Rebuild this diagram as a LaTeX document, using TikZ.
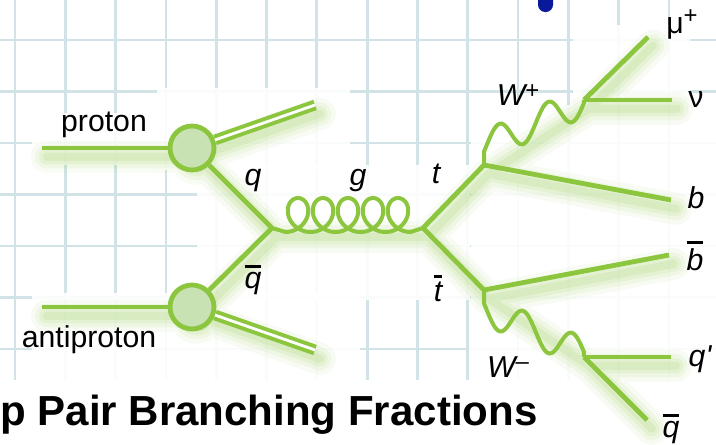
\documentclass[tikz,border=0pt]{standalone}
\usepackage{fontspec}
\setmainfont{Liberation Sans}
\usepackage{tikz}

% bar over an antiparticle symbol
\newcommand{\antibar}[1]{\vbox{\hrule height 0.1em\kern0.13em\hbox{#1}}}
% raised charge sign
\newcommand{\charge}[2][0.22em]{\raisebox{#1}{\fontsize{17}{17}\selectfont\upshape#2}}

\begin{document}
\begin{tikzpicture}[
  lbl/.style={inner sep=0pt,anchor=base,font=\fontsize{21.5}{26}\selectfont},
  ilbl/.style={lbl,font=\fontsize{21.5}{26}\selectfont\itshape},
  fermion/.style={draw=lgreen,line width=0.12cm},
  boson/.style={draw=lgreen,line width=0.1cm},
  remnant/.style={draw=lgreen,line width=0.1cm,double=white,double distance=0.07cm},
  hadron/.style={circle,draw=lgreen,fill=lfill,line width=0.12cm,minimum size=1.1cm,inner sep=0pt},
  glow/.style={draw=lgreen,line cap=round,line join=round,transform canvas={shift={(0.12,-0.22)}}},
  patch/.style={fill=white,opacity=0.9},
  gridline/.style={draw=gridc,line width=0.07cm}
]
% Define diagram colours
\definecolor{lgreen}{HTML}{8CC63F}
\definecolor{lfill}{HTML}{C8E2B4}
\definecolor{gridc}{HTML}{D2E3E7}
\definecolor{dotblue}{HTML}{0A189A}

\useasboundingbox (0,0) rectangle (17.9,11.1);

% Graph paper background
\foreach \x in {0,...,14}
  \draw[gridline] ({0.375+1.2575*\x},0) -- ({0.375+1.2575*\x},11.1);
\foreach \y in {0,...,7}
  \draw[gridline] (0,{10.1-1.2875*\y}) -- (17.9,{10.1-1.2875*\y});

% White areas behind the diagram
\fill[white] (0,0) rectangle (17.9,1.6);
\fill[patch] (0.8,8.275) rectangle (3.925,6.975);
\fill[patch] (3.925,8.9) rectangle (8.75,6.85);
\fill[patch] (4.925,6.975) rectangle (11.75,3.6);
\fill[patch] (0.8,3.775) rectangle (9.0,1.6);
\fill[patch] (11.725,3.6) rectangle (17.9,1.6);
\fill[patch] (11.775,8.475) rectangle (17.9,3.6);
\fill[patch] (14.325,10.475) rectangle (17.25,8.475);

% Blue marker at the top edge
\fill[dotblue,rounded corners=0.18cm] (13.45,11.6) rectangle (13.825,10.8);

% Vertices and line ends
\coordinate (pin) at (1.05,7.4);
\coordinate (pc) at (4.8,7.4);
\coordinate (pend) at (7.875,8.475);
\coordinate (ain) at (1.05,3.425);
\coordinate (ac) at (4.8,3.425);
\coordinate (aend) at (7.875,2.35);
\coordinate (qv) at (6.8,5.4);
\coordinate (tv) at (10.575,5.4);
\coordinate (tw) at (12.1,6.975);
\coordinate (wpv) at (14.6,8.6);
\coordinate (muend) at (16.2,10.175);
\coordinate (nuend) at (16.8,8.6);
\coordinate (bend) at (16.775,6.1);
\coordinate (tbw) at (12.1,3.85);
\coordinate (bbend) at (16.725,4.725);
\coordinate (wmv) at (14.6,2.175);
\coordinate (qpend) at (16.775,2.175);
\coordinate (qbend) at (16.175,0.6);

% Soft shadow under the lines
\foreach \w/\o in {0.8cm/0.06,0.58cm/0.08,0.38cm/0.1,0.2cm/0.12}
  \draw[glow,line width=\w,draw opacity=\o]
    (pin) -- (pc) -- (qv) -- (ac) -- (ain)
    (pc) -- (pend) (ac) -- (aend)
    (pc) circle (0.3) (ac) circle (0.3)
    (qv) -- (tv) -- (tw) -- (wpv) -- (muend) (wpv) -- (nuend) (tw) -- (bend)
    (tv) -- (tbw) -- (wmv) -- (qbend) (wmv) -- (qpend) (tbw) -- (bbend);

% Proton and antiproton
\node[hadron] (pcirc) at (pc) {};
\node[hadron] (acirc) at (ac) {};
\draw[fermion] (pin) -- (pcirc);
\draw[remnant] (pcirc) -- (pend);
\draw[fermion] (pcirc) -- (qv);
\draw[fermion] (ain) -- (acirc);
\draw[remnant] (acirc) -- (aend);
\draw[fermion] (acirc) -- (qv);

% Gluon
\draw[boson] (qv) -- plot[domain=0:31.416,samples=241,smooth,variable=\t]
  ({7.1375+0.09947*\t+0.4*sin(\t r)},{5.725-0.425*cos(\t r)}) -- (tv);

% Top and antitop decays
\draw[fermion] (tv) -- (tw);
\draw[fermion] (tw) -- (bend);
\draw[boson] (tw) -- plot[domain=0:2.5,samples=80,smooth,variable=\s]
  ({12.1+\s},{7.445+0.449*\s+0.3875*sin((5.128*\s-0.352) r)}) -- (wpv);
\draw[fermion] (wpv) -- (muend);
\draw[fermion] (wpv) -- (nuend);
\draw[fermion] (tv) -- (tbw);
\draw[fermion] (tbw) -- (bbend);
\draw[boson] (tbw) -- plot[domain=0:2.5,samples=80,smooth,variable=\s]
  ({12.1+\s},{3.38-0.449*\s-0.3875*sin((5.128*\s-0.352) r)}) -- (wmv);
\draw[fermion] (wmv) -- (qpend);
\draw[fermion] (wmv) -- (qbend);

% Labels
\node[lbl] (proton) at (2.6,7.825) {proton};
\node[lbl] (antiproton) at (2.225,2.425) {antiproton};
\node[ilbl] (qlab) at (6.325,6.475) {q};
\node[ilbl] (qbarlab) at (6.325,3.9) {\antibar{q}};
\node[ilbl] (glab) at (8.95,6.475) {g};
\node[ilbl] (tlab) at (10.9,6.525) {t};
\node[ilbl] (tbarlab) at (10.95,3.575) {\antibar{t}};
\node[ilbl] (wplab) at (12.95,8.475) {W\charge{+}};
\node[ilbl] (wmlab) at (12.7,1.675) {W\charge[0.25em]{–}};
\node[lbl] (mulab) at (17.05,10.275) {μ\charge[0.32em]{+}};
\node[lbl] (nulab) at (17.4,8.425) {ν};
\node[ilbl] (blab) at (17.4,5.9) {b};
\node[ilbl] (bbarlab) at (17.375,4.35) {\antibar{b}};
\node[ilbl] (qplab) at (17.5,1.95) {q\textquotesingle};
\node[ilbl] (qbarout) at (16.775,0.175) {\antibar{q}};

% Heading
\node[anchor=base west,inner sep=0pt,font=\fontsize{29.9}{36}\selectfont\bfseries] (heading) at (0,0.475) {p Pair Branching Fractions};
\end{tikzpicture}
\end{document}
